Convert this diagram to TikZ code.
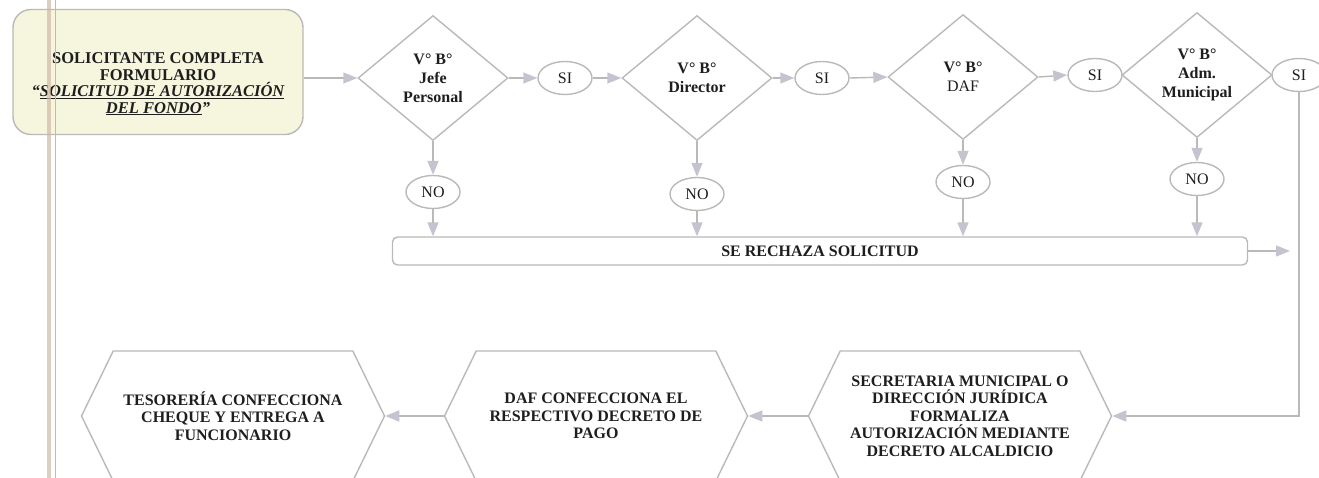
\documentclass[tikz,border=0pt]{standalone}
\usepackage{fontspec}
\setmainfont{Liberation Serif}
\usetikzlibrary{shapes.geometric,shapes.symbols,arrows.meta}
\definecolor{linegray}{RGB}{185,185,185}
\definecolor{tipgray}{RGB}{196,196,208}
\definecolor{textgray}{RGB}{30,30,30}
\definecolor{paleyellow}{RGB}{246,246,222}
\definecolor{margintan}{RGB}{205,185,165}
\definecolor{marginblue}{RGB}{175,185,228}

\begin{document}
\begin{tikzpicture}
[x=1pt,y=-1pt,
 every node/.style={text=textgray,font=\fontsize{16}{17}\selectfont},
 startbox/.style={draw=linegray,line width=1.4pt,rounded corners=18pt,fill=paleyellow,minimum width=290pt,minimum height=125pt},
 starttext/.style={align=center,font=\bfseries\fontsize{16.5}{16.5}\selectfont},
 check/.style={diamond,draw=linegray,line width=1.4pt,aspect=1.2,minimum width=150pt,minimum height=125pt,inner sep=0pt,align=center,font=\bfseries\fontsize{16}{19}\selectfont},
 answer/.style={ellipse,draw=linegray,line width=1.4pt,minimum width=54pt,minimum height=33pt,inner sep=0pt},
 rejectbox/.style={draw=linegray,line width=1.4pt,rounded corners=5pt,minimum width=855pt,minimum height=28pt,font=\bfseries\fontsize{16}{17}\selectfont},
 task/.style={signal,signal to=east and west,signal pointer angle=128,draw=linegray,line width=1.4pt,minimum width=303pt,minimum height=130pt,align=center,font=\bfseries\fontsize{16}{17.5}\selectfont},
 flow/.style={-{Triangle[length=14pt,width=11pt,color=tipgray]},draw=linegray,line width=1.4pt}]
\useasboundingbox (0,0) rectangle (1319,478);

\node[startbox] (solicitud) at (158,72) {};
\node[starttext] (solicitudtexto) at (158,84) {SOLICITANTE COMPLETA\\FORMULARIO\\{\itshape“\underline{SOLICITUD DE AUTORIZACIÓN}}\\{\itshape\underline{DEL FONDO}”}};
\draw[line width=4pt,margintan,opacity=0.7] (49,0) -- (49,478);
\draw[line width=0.8pt,marginblue] (55,0) -- (55,478);

\node[check] (jefe) at (433,78) {V° B°\\Jefe\\Personal};
\node[check] (director) at (697,78) {V° B°\\Director};
\node[check] (daf) at (963,77) {V° B°\\\mdseries DAF};
\node[check] (adm) at (1197,75) {V° B°\\Adm.\\Municipal};

\node[answer] (si1) at (565,78) {SI};
\node[answer] (si2) at (822,78) {SI};
\node[answer] (si3) at (1095,75) {SI};
\node[answer] (si4) at (1299,75) {SI};

\node[answer] (no1) at (433,192) {NO};
\node[answer] (no2) at (697,194) {NO};
\node[answer] (no3) at (963,182) {NO};
\node[answer] (no4) at (1197,179) {NO};

\node[rejectbox] (rechazo) at (820,251) {SE RECHAZA SOLICITUD};
\coordinate (salida) at (1290,251);

\node[task] (tesoreria) at (233,416) {TESORERÍA CONFECCIONA\\CHEQUE Y ENTREGA A\\FUNCIONARIO};
\node[task] (decreto) at (596,416) {DAF CONFECCIONA EL\\RESPECTIVO DECRETO DE\\PAGO};
\node[task] (secretaria) at (960,416) {SECRETARIA MUNICIPAL O\\DIRECCIÓN JURÍDICA\\FORMALIZA\\AUTORIZACIÓN MEDIANTE\\DECRETO ALCALDICIO};

\draw[flow] (jefe.west -| solicitud.east) -- (jefe.west);
\draw[flow] (jefe.east) -- (si1.west);
\draw[flow] (si1.east) -- (director.west);
\draw[flow] (director.east) -- (si2.west);
\draw[flow] (si2.east) -- (daf.west);
\draw[flow] (daf.east) -- (si3.west);
\foreach \d/\n in {jefe/no1,director/no2,daf/no3,adm/no4} {
  \draw[flow] (\d.south) -- (\n.north);
  \draw[flow] (\n.south) -- (\n.south |- rechazo.north);
}
\draw[flow] (rechazo.east) -- (salida);
\draw[flow] (si4.south) |- (secretaria.east);
\draw[flow] (secretaria.west) -- (decreto.east);
\draw[flow] (decreto.west) -- (tesoreria.east);
\end{tikzpicture}
\end{document}
